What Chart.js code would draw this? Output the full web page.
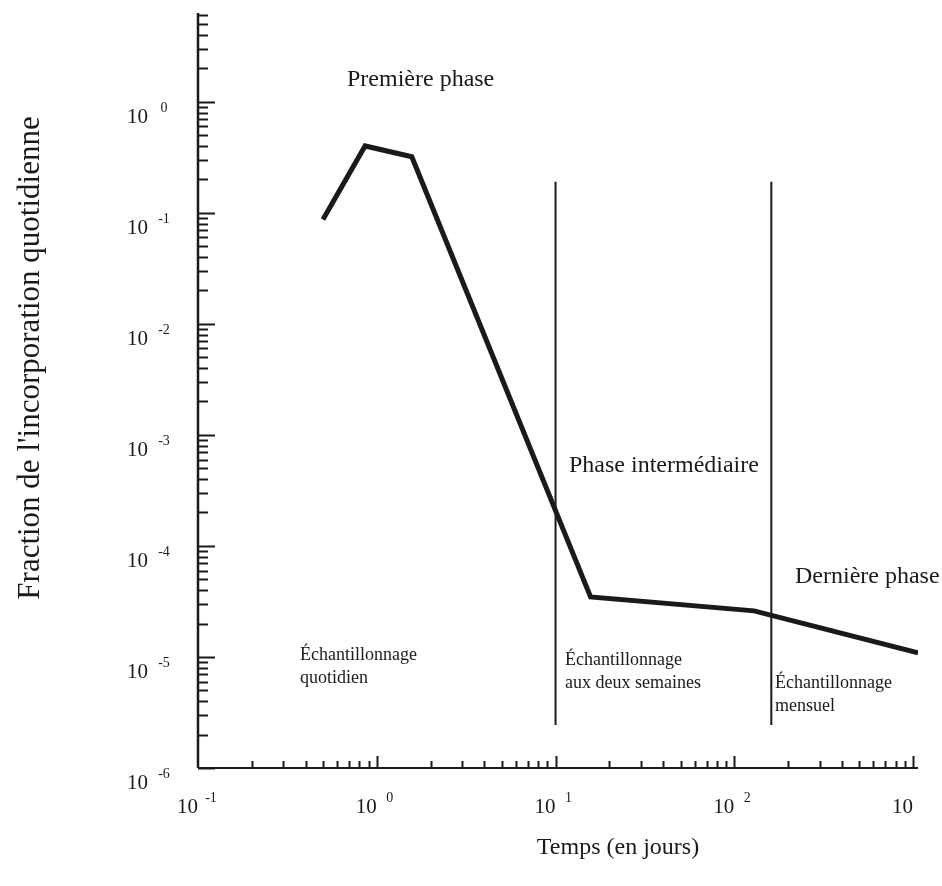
<!DOCTYPE html>
<html>
<head>
<meta charset="utf-8">
<script src="https://cdn.jsdelivr.net/npm/chart.js@4.4.0/dist/chart.umd.min.js"></script>
<style>
  html, body { margin: 0; padding: 0; background: #fff; }
  #chart { display: block; }
</style>
</head>
<body>
<canvas id="chart" width="942" height="886"></canvas>
<script>
// values
var curveDays = [0.5, 0.86, 1.57, 15.7, 129, 1065];
var curveFraction = [0.087, 0.40, 0.32, 3.47e-5, 2.6e-5, 1.09e-5];

var boundaryDays = [10, 161];          // vertical separators between the sampling phases
var boundaryRange = [0.19, 2.44e-6];   // top and bottom of those separators

var xDecades = [-1, 0, 1, 2, 3];
var xExponents = ['-1', '0', '1', '2', ''];
var yDecades = [-6, -5, -4, -3, -2, -1, 0];
var yExponents = ['-6', '-5', '-4', '-3', '-2', '-1', '0'];

var xMin = 0.1, xMax = 1065;
var yMin = 1e-6, yMax = 6.3;

var serif = '"Liberation Serif", "DejaVu Serif", serif';
var ink = '#1a1a1a';

// build the datasets from the arrays above
var curvePoints = [];
for (var i = 0; i < curveDays.length; i++) {
  curvePoints.push({ x: curveDays[i], y: curveFraction[i] });
}

var datasets = [{
  label: 'incorporation',
  data: curvePoints,
  borderColor: ink,
  borderWidth: 5,
  borderJoinStyle: 'miter',
  borderCapStyle: 'butt',
  pointRadius: 0,
  fill: false,
  tension: 0
}];

boundaryDays.forEach(function (d) {
  datasets.push({
    label: 'limite ' + d,
    data: [{ x: d, y: boundaryRange[0] }, { x: d, y: boundaryRange[1] }],
    borderColor: ink,
    borderWidth: 2,
    pointRadius: 0,
    fill: false
  });
});

// axes, ticks, superscript labels and the free text of the figure
var figurePlugin = {
  id: 'figure',
  afterDatasetsDraw: function (chart) {
    var ctx = chart.ctx;
    var xs = chart.scales.x;
    var ys = chart.scales.y;
    var area = chart.chartArea;

    ctx.save();
    ctx.strokeStyle = ink;
    ctx.fillStyle = ink;
    ctx.lineCap = 'butt';

    // axis lines
    ctx.lineWidth = 2.5;
    ctx.beginPath();
    ctx.moveTo(area.left, area.top);
    ctx.lineTo(area.left, area.bottom);
    ctx.stroke();
    ctx.lineWidth = 2;
    ctx.beginPath();
    ctx.moveTo(area.left, area.bottom);
    ctx.lineTo(area.right, area.bottom);
    ctx.stroke();

    // y ticks pointing into the plot
    ctx.lineWidth = 2;
    for (var e = -6; e <= 0; e++) {
      for (var k = 1; k <= 9; k++) {
        var v = k * Math.pow(10, e);
        if (v < yMin || v > yMax) continue;
        var py = Math.round(ys.getPixelForValue(v)) + 0.5;
        var len = (k === 1) ? 17 : 10;
        ctx.beginPath();
        ctx.moveTo(area.left, py);
        ctx.lineTo(area.left + len, py);
        ctx.stroke();
      }
    }

    // x ticks pointing up
    for (var e2 = -1; e2 <= 3; e2++) {
      for (var k2 = 1; k2 <= 9; k2++) {
        var v2 = k2 * Math.pow(10, e2);
        if (v2 < xMin || v2 > xMax) continue;
        if (e2 === -1 && k2 === 1) continue;
        var px = Math.round(xs.getPixelForValue(v2)) + 0.5;
        var len2 = (k2 === 1) ? 12 : 7;
        ctx.beginPath();
        ctx.moveTo(px, area.bottom);
        ctx.lineTo(px, area.bottom - len2);
        ctx.stroke();
      }
    }

    // tick labels: "10" with a raised exponent
    ctx.textBaseline = 'alphabetic';
    yDecades.forEach(function (d, idx) {
      var py = ys.getPixelForValue(Math.pow(10, d));
      ctx.font = '21px ' + serif;
      ctx.textAlign = 'right';
      ctx.fillText('10', 148, py + 21);
      ctx.font = '14px ' + serif;
      ctx.textAlign = 'center';
      ctx.fillText(yExponents[idx], 164, py + 10);
    });
    xDecades.forEach(function (d, idx) {
      var px = xs.getPixelForValue(Math.pow(10, d));
      ctx.font = '21px ' + serif;
      ctx.textAlign = 'right';
      ctx.fillText('10', px, 813);
      ctx.font = '14px ' + serif;
      ctx.textAlign = 'center';
      ctx.fillText(xExponents[idx], px + 13, 802);
    });

    // axis titles
    ctx.font = '24px ' + serif;
    ctx.textAlign = 'center';
    ctx.fillText('Temps (en jours)', 618, 854);

    ctx.save();
    ctx.translate(39, 358);
    ctx.rotate(-Math.PI / 2);
    ctx.font = '31px ' + serif;
    ctx.textAlign = 'center';
    ctx.fillText("Fraction de l'incorporation quotidienne", 0, 0);
    ctx.restore();

    // phase names
    ctx.font = '24px ' + serif;
    ctx.textAlign = 'left';
    ctx.fillText('Première phase', 347, 86);
    ctx.fillText('Phase intermédiaire', 569, 472);
    ctx.fillText('Dernière phase', 795, 583);

    // sampling notes
    ctx.font = '18px ' + serif;
    ctx.fillText('Échantillonnage', 300, 660);
    ctx.fillText('quotidien', 300, 683);
    ctx.fillText('Échantillonnage', 565, 665);
    ctx.fillText('aux deux semaines', 565, 688);
    ctx.fillText('Échantillonnage', 775, 688);
    ctx.fillText('mensuel', 775, 711);

    ctx.restore();
  }
};

var chart = new Chart(document.getElementById('chart'), {
  type: 'line',
  data: { datasets: datasets },
  options: {
    responsive: false,
    animation: false,
    layout: { padding: { left: 198, right: 24, top: 13, bottom: 118 } },
    plugins: {
      legend: { display: false },
      tooltip: { enabled: false }
    },
    scales: {
      x: { type: 'logarithmic', min: xMin, max: xMax, display: false },
      y: { type: 'logarithmic', min: yMin, max: yMax, display: false }
    }
  },
  plugins: [figurePlugin]
});
</script>
</body>
</html>
